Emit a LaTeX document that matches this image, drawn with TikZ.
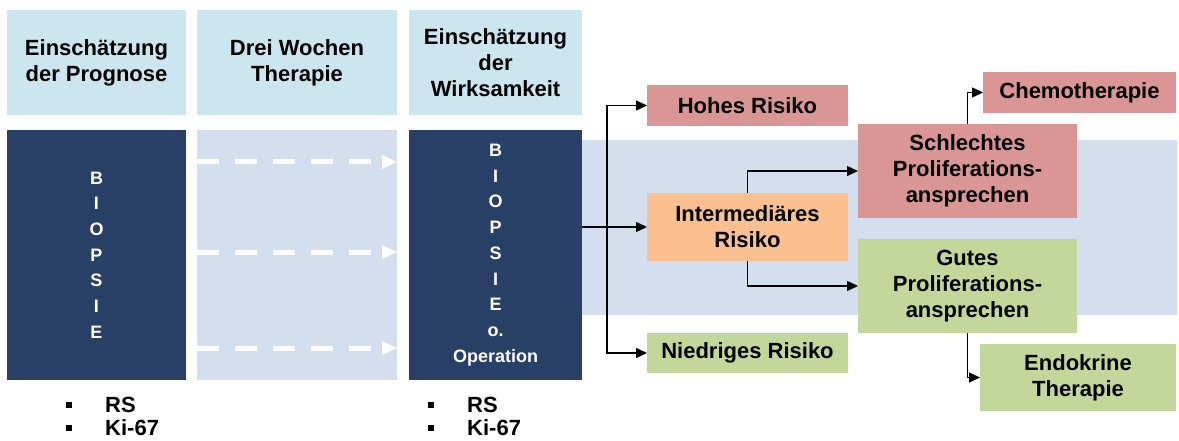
\documentclass[tikz,border=0pt]{standalone}
\usepackage{fontspec}
\setmainfont{Liberation Sans}
\usetikzlibrary{arrows.meta}
\definecolor{headblue}{HTML}{CCE6F0}
\definecolor{navy}{HTML}{283F66}
\definecolor{paleband}{HTML}{D3DEEE}
\definecolor{riskred}{HTML}{DA9694}
\definecolor{riskorange}{HTML}{FAC090}
\definecolor{riskgreen}{HTML}{C4D79B}
\newcommand\sqbullet{\rule[4.5pt]{6pt}{6pt}}
\begin{document}
\begin{tikzpicture}[x=1pt,y=-1pt,
  box/.style={inner sep=0pt, outer sep=0pt, align=center, anchor=north west,
    font=\fontsize{22}{26}\selectfont\bfseries},
  header/.style={box, fill=headblue},
  biopsy/.style={box, fill=navy, text=white, font=\fontsize{18}{25.7}\selectfont\bfseries},
  bulletlist/.style={inner sep=0pt, anchor=base west, font=\fontsize{22}{23}\selectfont\bfseries},
  arr/.style={draw=black, line width=1.4pt, -{Triangle[length=11pt,width=10pt]}},
  dasharr/.style={draw=white, line width=5pt, dash pattern=on 22pt off 16pt,
    -{Triangle[length=15pt,width=14pt,line width=0pt]}}
]
\useasboundingbox (0,0) rectangle (1179,441);

% background band behind the risk branches
\node[box, fill=paleband, minimum width=595pt, minimum height=175pt] (band) at (582,140) {};

% column headers
\node[header, minimum width=179pt, minimum height=105pt] (h1) at (7,10) {Einschätzung\\der Prognose};
\node[header, minimum width=200pt, minimum height=105pt] (h2) at (197,10) {Drei Wochen\\Therapie};
\node[header, minimum width=173pt, minimum height=105pt] (h3) at (409,10) {Einschätzung\\der\\Wirksamkeit};

% biopsy columns and therapy period
\node[biopsy, minimum width=179pt, minimum height=250pt] (dark1) at (7,130) {B\\I\\O\\P\\S\\I\\E};
\node[box, fill=paleband, minimum width=200pt, minimum height=250pt] (mid) at (197,130) {};
\node[biopsy, minimum width=173pt, minimum height=250pt] (dark2) at (409,130) {B\\I\\O\\P\\S\\I\\E\\o.\\Operation};

% dashed arrows through the therapy period
\coordinate (d1) at (0,162);
\coordinate (d2) at (0,252);
\coordinate (d3) at (0,348);
\draw[dasharr] (mid.west |- d1) -- (mid.east |- d1);
\draw[dasharr] (mid.west |- d2) -- (mid.east |- d2);
\draw[dasharr] (mid.west |- d3) -- (mid.east |- d3);

% risk groups
\node[box, fill=riskred, minimum width=201pt, minimum height=41pt] (hohes) at (647,85) {Hohes Risiko};
\node[box, fill=riskorange, minimum width=201pt, minimum height=68pt] (inter) at (647,193) {Intermediäres\\Risiko};
\node[box, fill=riskgreen, minimum width=201pt, minimum height=40pt] (niedrig) at (647,333) {Niedriges Risiko};

% proliferation response
\node[box, fill=riskred, minimum width=219pt, minimum height=94pt] (schlecht) at (858,124) {Schlechtes\\Proliferations-\\ansprechen};
\node[box, fill=riskgreen, minimum width=219pt, minimum height=94pt] (gutes) at (858,239) {Gutes\\Proliferations-\\ansprechen};

% therapies
\node[box, fill=riskred, minimum width=193pt, minimum height=41pt] (chemo) at (983,72) {Chemotherapie};
\node[box, fill=riskgreen, minimum width=196pt, minimum height=67pt] (endo) at (980,344) {Endokrine\\Therapie};

% markers below the biopsy columns
\node[bulletlist] (list1) at (66,412) {\begin{tabular}[t]{@{}l@{\hspace{33pt}}l@{}}\sqbullet & RS\\ \sqbullet & Ki-67\end{tabular}};
\node[bulletlist] (list2) at (428,412) {\begin{tabular}[t]{@{}l@{\hspace{33pt}}l@{}}\sqbullet & RS\\ \sqbullet & Ki-67\end{tabular}};

% connectors
\coordinate (split) at (607,227);
\draw[arr] (dark2.east |- inter) -- (inter.west);
\draw[arr] (split) |- (hohes.west);
\draw[arr] (split) |- (niedrig.west);
\draw[arr] (inter.north) |- (schlecht.west);
\draw[arr] (inter.south) |- (gutes.west);
\draw[arr] (schlecht.north) |- (chemo.west);
\draw[arr] (gutes.south) |- (endo.west);
\end{tikzpicture}
\end{document}
